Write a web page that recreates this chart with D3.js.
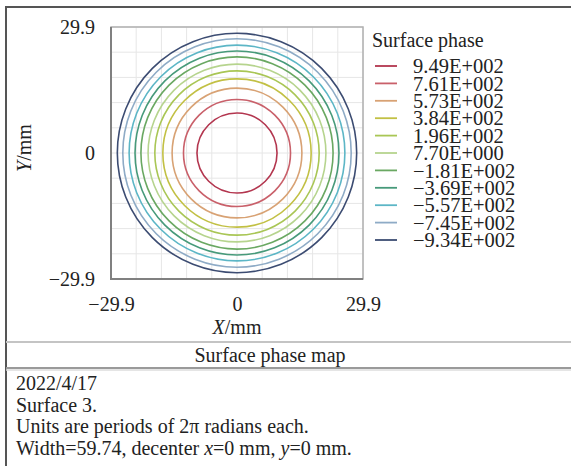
<!DOCTYPE html>
<html>
<head>
<meta charset="utf-8">
<script src="https://cdn.jsdelivr.net/npm/d3@7"></script>
<style>
  body { margin: 0; background: #fff; }
  svg text { font-family: "Liberation Serif", "Times New Roman", serif; fill: #222; }
</style>
</head>
<body>
<div id="chart"></div>
<script>
// contour levels (surface phase), highest first
var levels = [949, 761, 573, 384, 196, 7.70, -181, -369, -557, -745, -934];
// radius (mm) where each contour ring sits
var ringRadius = [9.5, 12.7, 15.4, 17.6, 19.5, 21.1, 22.8, 24.2, 25.6, 27.1, 28.4];
var levelColors = ['#b3364f', '#c9606a', '#d8a274', '#c2c044', '#a9c655', '#b6d48e',
                   '#6aa862', '#479a7a', '#5cb6c6', '#8eabc6', '#3c4c72'];
var axisTicks = [-29.9, 0, 29.9];
var infoLines = ['2022/4/17', 'Surface 3.', 'Units are periods of 2\u03c0 radians each.'];

var width = 571,
    height = 466;

var svg = d3.select('#chart')
    .append('svg')
    .attr('width', width)
    .attr('height', height);

// outer frame
svg.append('rect')
    .attr('x', 6).attr('y', 7)
    .attr('width', 580).attr('height', 480)
    .attr('fill', 'none')
    .attr('stroke', '#555')
    .attr('stroke-width', 2);

var x = d3.scaleLinear().domain([-29.9, 29.9]).range([111, 363]),
    y = d3.scaleLinear().domain([-29.9, 29.9]).range([279, 27]);

// grid: 10 equal divisions
var gridVals = d3.range(11).map(function (i) { return -29.9 + i * 5.98; });
var grid = svg.append('g');
grid.selectAll('.gx').data(gridVals).enter().append('line')
    .attr('x1', function (d) { return x(d); }).attr('x2', function (d) { return x(d); })
    .attr('y1', y(29.9)).attr('y2', y(-29.9))
    .attr('stroke', '#e6e6e6').attr('stroke-width', 1);
grid.selectAll('.gy').data(gridVals).enter().append('line')
    .attr('y1', function (d) { return y(d); }).attr('y2', function (d) { return y(d); })
    .attr('x1', x(-29.9)).attr('x2', x(29.9))
    .attr('stroke', '#e6e6e6').attr('stroke-width', 1);

// contour rings
svg.append('g').selectAll('circle')
    .data(levels)
    .enter().append('circle')
    .attr('cx', x(0))
    .attr('cy', y(0))
    .attr('r', function (d, i) { return x(ringRadius[i]) - x(0); })
    .attr('fill', 'none')
    .attr('stroke', function (d, i) { return levelColors[i]; })
    .attr('stroke-width', 1.6);

// plot box
svg.append('rect')
    .attr('x', x(-29.9)).attr('y', y(29.9))
    .attr('width', x(29.9) - x(-29.9)).attr('height', y(-29.9) - y(29.9))
    .attr('fill', 'none').attr('stroke', '#b0b0b0').attr('stroke-width', 1.5);
svg.append('path')
    .attr('d', 'M' + x(-29.9) + ',' + y(29.9) + 'V' + y(-29.9) + 'H' + x(29.9))
    .attr('fill', 'none').attr('stroke', '#808080').attr('stroke-width', 2);

function tickText(d) { return d === 0 ? '0' : d3.format('.1f')(d); }

// axes
var xAxis = svg.append('g')
    .attr('transform', 'translate(0,' + y(-29.9) + ')')
    .call(d3.axisBottom(x).tickValues(axisTicks).tickSize(0).tickPadding(18).tickFormat(tickText));
var yAxis = svg.append('g')
    .attr('transform', 'translate(' + x(-29.9) + ',0)')
    .call(d3.axisLeft(y).tickValues(axisTicks).tickSize(0).tickPadding(16).tickFormat(tickText));
[xAxis, yAxis].forEach(function (a) {
    a.select('.domain').remove();
    a.selectAll('text').style('font-size', '20px').attr('fill', '#222');
});
yAxis.selectAll('text').attr('dy', '0.32em');

// axis titles
var xt = svg.append('text')
    .attr('x', x(0)).attr('y', 334)
    .attr('text-anchor', 'middle').style('font-size', '20px');
xt.append('tspan').style('font-style', 'italic').text('X');
xt.append('tspan').text('/mm');

var yt = svg.append('text')
    .attr('transform', 'translate(31,' + 148 + ') rotate(-90)')
    .attr('text-anchor', 'middle').style('font-size', '20px');
yt.append('tspan').style('font-style', 'italic').text('Y');
yt.append('tspan').text('/mm');

// legend
function sci(v) {
    var e = v === 0 ? 0 : Math.floor(Math.log10(Math.abs(v)));
    var m = Math.abs(v) / Math.pow(10, e);
    var es = String(Math.abs(e));
    while (es.length < 3) es = '0' + es;
    return (v < 0 ? '\u2212' : '') + m.toFixed(2) + 'E' + (e < 0 ? '-' : '+') + es;
}

var legend = svg.append('g');
legend.append('text')
    .attr('x', 372).attr('y', 47)
    .style('font-size', '20px')
    .text('Surface phase');

var ly = d3.scaleLinear().domain([0, levels.length - 1]).range([66, 240]);
var items = legend.selectAll('.item').data(levels).enter().append('g');
items.append('line')
    .attr('x1', 375).attr('x2', 397)
    .attr('y1', function (d, i) { return ly(i); })
    .attr('y2', function (d, i) { return ly(i); })
    .attr('stroke', function (d, i) { return levelColors[i]; })
    .attr('stroke-width', 1.8);
items.append('text')
    .attr('x', 413)
    .attr('y', function (d, i) { return ly(i); })
    .attr('dy', '0.35em')
    .style('font-size', '20.5px')
    .text(function (d) { return sci(d); });

// caption rows
svg.append('line').attr('x1', 6).attr('x2', width).attr('y1', 342).attr('y2', 342)
    .attr('stroke', '#c4c4c4').attr('stroke-width', 2);
svg.append('line').attr('x1', 6).attr('x2', width).attr('y1', 368).attr('y2', 368)
    .attr('stroke', '#9a9a9a').attr('stroke-width', 2);
svg.append('line').attr('x1', 6).attr('x2', width).attr('y1', 370).attr('y2', 370)
    .attr('stroke', '#dcdcdc').attr('stroke-width', 1.5);

svg.append('text')
    .attr('x', 270).attr('y', 362)
    .attr('text-anchor', 'middle').style('font-size', '20px')
    .text('Surface phase map');

svg.selectAll('.info').data(infoLines).enter().append('text')
    .attr('x', 16)
    .attr('y', function (d, i) { return 390 + i * 21.5; })
    .style('font-size', '20px')
    .text(function (d) { return d; });

var last = svg.append('text')
    .attr('x', 16).attr('y', 390 + 3 * 21.5)
    .style('font-size', '20px');
last.append('tspan').text('Width=59.74, decenter ');
last.append('tspan').style('font-style', 'italic').text('x');
last.append('tspan').text('=0 mm, ');
last.append('tspan').style('font-style', 'italic').text('y');
last.append('tspan').text('=0 mm.');
</script>
</body>
</html>
